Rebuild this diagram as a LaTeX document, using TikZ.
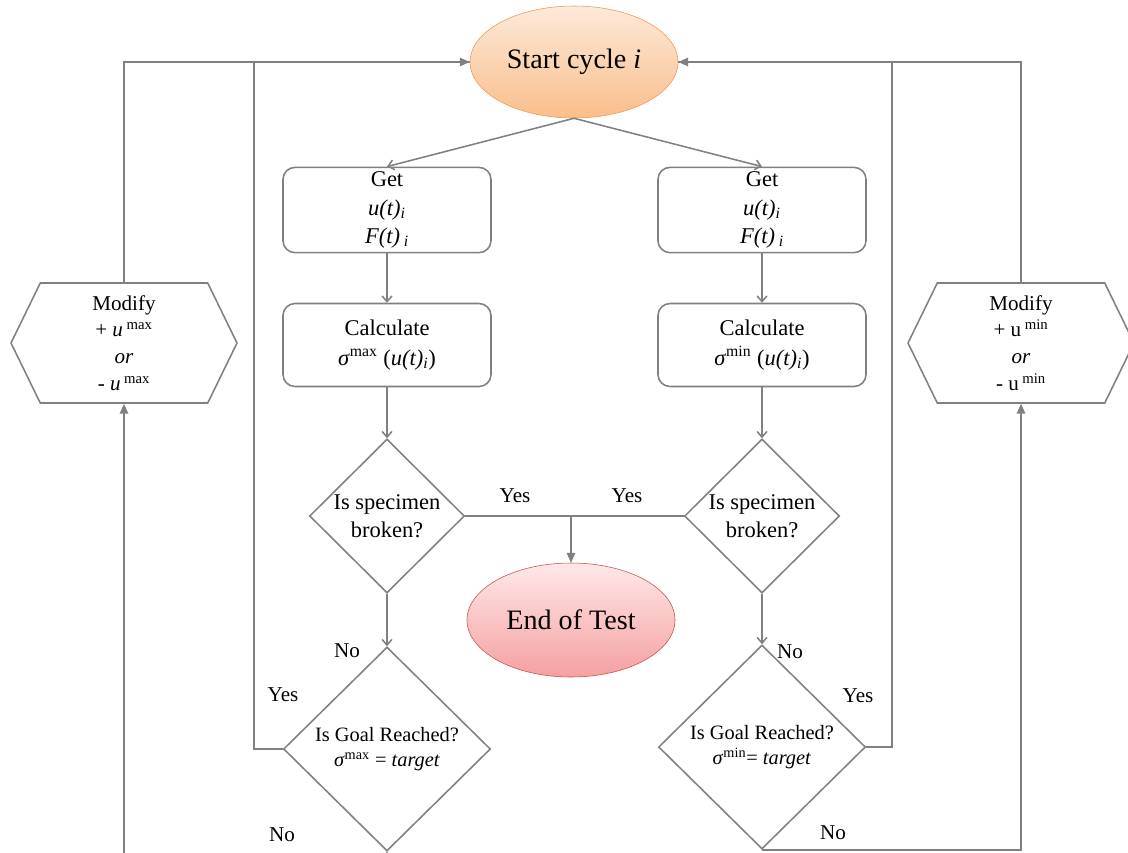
\documentclass[tikz,border=0pt]{standalone}
\usepackage{fontspec}
\setmainfont{Liberation Serif}
\usetikzlibrary{arrows.meta, shapes.geometric, shapes.symbols}
\definecolor{linegray}{RGB}{128,128,128}
\definecolor{startline}{RGB}{240,150,80}
\definecolor{starttop}{RGB}{253,234,218}
\definecolor{startbot}{RGB}{250,190,140}
\definecolor{endline}{RGB}{200,80,80}
\definecolor{endtop}{RGB}{255,232,232}
\definecolor{endbot}{RGB}{245,160,160}

\begin{document}
\begin{tikzpicture}[x=0.25mm, y=-0.25mm,
  flow/.style={draw=linegray, line width=1.1pt},
  arr/.style={flow, -{Triangle[length=7pt,width=6pt]}},
  barb/.style={flow, -{Straight Barb[length=4pt,width=7pt]}},
  txt/.style={font=\fontsize{16}{20}\selectfont, align=center},
  startnode/.style={ellipse, draw=startline, top color=starttop, bottom color=startbot,
    minimum width=52mm, minimum height=28mm, font=\fontsize{20}{24}\selectfont},
  endnode/.style={ellipse, draw=endline, top color=endtop, bottom color=endbot,
    minimum width=52mm, minimum height=28.5mm, font=\fontsize{20}{24}\selectfont},
  getbox/.style={txt, draw=linegray, line width=1.1pt, rounded corners=3mm,
    minimum width=52mm, minimum height=20.75mm},
  decision/.style={txt, diamond, draw=linegray, line width=1.1pt, inner sep=0pt,
    minimum width=38.75mm, minimum height=38.5mm},
  goal/.style={diamond, draw=linegray, line width=1.1pt, inner sep=0pt, align=center,
    font=\fontsize{14.5}{18}\selectfont, minimum width=51.75mm, minimum height=51mm},
  modify/.style={txt, signal, signal to=west and east, signal pointer angle=128,
    draw=linegray, line width=1.1pt, minimum width=56.5mm, minimum height=30mm,
    font=\fontsize{15}{19}\selectfont},
  lbl/.style={font=\fontsize{15}{18}\selectfont}]
  \useasboundingbox (0,0) rectangle (1128,852);
  \clip (0,0) rectangle (1128,852);

  % start and end
  \node[startnode] (start) at (574,62) {Start cycle \textit{i}};
  \node[endnode] (end) at (571,620) {End of Test};

  % left branch (max)
  \node[getbox] (getL) at (387,210) {Get\\\textit{u(t)}\textsubscript{\textit{i}}\\\textit{F(t)}\,\textsubscript{\textit{i}}};
  \node[getbox, font=\fontsize{16}{21}\selectfont] (calcL) at (387,345)
    {Calculate\\\textit{σ}\textsuperscript{max} (\textit{u(t)}\textsubscript{\textit{i}})};
  \node[decision] (brokL) at (387,516) {Is specimen\\broken?};
  \node[goal] (goalL) at (387,749) {Is Goal Reached?\\\textit{σ}\textsuperscript{max} = \textit{target}};
  \node[modify] (modL) at (124,343) {Modify\\+ \textit{u}\,\textsuperscript{max}\\\textit{or}\\- \textit{u}\,\textsuperscript{max}};

  % right branch (min)
  \node[getbox] (getR) at (762,210) {Get\\\textit{u(t)}\textsubscript{\textit{i}}\\\textit{F(t)}\,\textsubscript{\textit{i}}};
  \node[getbox, font=\fontsize{16}{21}\selectfont] (calcR) at (762,345)
    {Calculate\\\textit{σ}\textsuperscript{min} (\textit{u(t)}\textsubscript{\textit{i}})};
  \node[decision] (brokR) at (762,516) {Is specimen\\broken?};
  \node[goal] (goalR) at (762,747) {Is Goal Reached?\\\textit{σ}\textsuperscript{min}= \textit{target}};
  \node[modify] (modR) at (1021,343) {Modify\\+ u\,\textsuperscript{min}\\\textit{or}\\- u\,\textsuperscript{min}};

  % connectors
  \draw[barb] (start.south) -- (getL.north);
  \draw[barb] (start.south) -- (getR.north);
  \draw[barb] (getL) -- (calcL);
  \draw[barb] (getR) -- (calcR);
  \draw[barb] (calcL) -- (brokL);
  \draw[barb] (calcR) -- (brokR);
  \draw[barb] (brokL) -- (goalL);
  \draw[barb] (brokR) -- (goalR);

  % yes: specimen broken
  \draw[flow] (brokL.east) -- (brokR.west);
  \coordinate (yesjoin) at (end.north |- brokL.east);
  \draw[arr] (yesjoin) -- (end.north);

  % yes: goal reached, back to start
  \draw[flow] (goalL.west) -- ++(-29,0) |- (start.west);
  \draw[arr] (modL.north) |- (start.west);
  \draw[flow] (goalR.east) -- ++(25.6,0) |- (start.east);
  \draw[arr] (modR.north) |- (start.east);

  % no: modify and retry
  \draw[arr] (goalL.south) -- ++(0,6) -| (modL.south);
  \draw[arr] (goalR.south) -| (modR.south);

  % labels
  \node[lbl] (yesL) at (515,496) {Yes};
  \node[lbl] (yesR) at (627,496) {Yes};
  \node[lbl] (noL) at (347,651) {No};
  \node[lbl] (noR) at (790,652) {No};
  \node[lbl] (yesGL) at (283,695) {Yes};
  \node[lbl] (yesGR) at (858,696) {Yes};
  \node[lbl] (noGL) at (282,835) {No};
  \node[lbl] (noGR) at (833,833) {No};
\end{tikzpicture}
\end{document}
